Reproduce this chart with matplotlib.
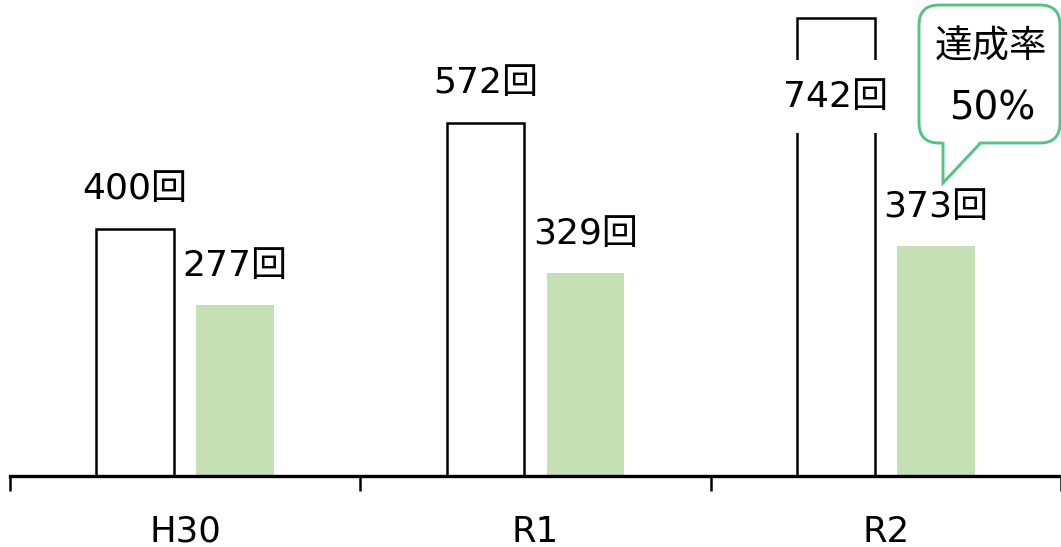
import matplotlib
matplotlib.use("Agg")
import matplotlib.pyplot as plt
from matplotlib.patches import FancyBboxPatch, Polygon
from matplotlib.lines import Line2D
import numpy as np

plt.rcParams['font.family'] = ['DejaVu Sans', 'Noto Sans CJK JP']

# data
categories = ['H30', 'R1', 'R2']
targets = [400, 572, 742]      # white bars
results = [277, 329, 373]      # green bars
target_labels = ['400回', '572回', '742回']
result_labels = ['277回', '329回', '373回']
callout_lines = ['達成率', '50%']

green = '#C5E0B4'
bubble_green = '#55C286'

fig = plt.figure(figsize=(10.61, 5.47), dpi=100)
ax = fig.add_axes([10 / 1061, 71 / 547, 1051 / 1061, 476 / 547])

x = np.arange(len(categories))
w = 0.222
off = 0.1425

ax.bar(x - off, targets, w, facecolor='white', edgecolor='black', linewidth=1.8, zorder=2)
ax.bar(x + off, results, w, facecolor=green, edgecolor='none', zorder=2)

ax.set_xlim(-0.5, 2.5)
ax.set_ylim(0, 771)

box = dict(facecolor='white', edgecolor='none', pad=14)
for i in range(len(categories)):
    ty = targets[i] + 65
    bb = None
    if ty > 700:
        ty = 614   # label sits inside the bar when it would run off the top
        bb = box
    ax.text(x[i] - off, ty, target_labels[i], ha='center', va='center',
            fontsize=26, bbox=bb, zorder=3)
    ax.text(x[i] + off, results[i] + 63, result_labels[i], ha='center', va='center',
            fontsize=26, zorder=3)

# axis styling
for s in ['top', 'left', 'right']:
    ax.spines[s].set_visible(False)
ax.spines['bottom'].set_linewidth(2.4)
ax.set_yticks([])
ax.set_xticks([-0.5, 0.5, 1.5, 2.5])
ax.set_xticklabels([])
ax.tick_params(axis='x', which='major', length=11, width=1.8, direction='out')
ax.set_xticks(x, minor=True)
ax.set_xticklabels(categories, minor=True, fontsize=25.5)
ax.tick_params(axis='x', which='minor', length=0, pad=28)

# callout bubble (pixel positions converted to inches)
def px(xp, yp):
    return xp / 100, (547 - yp) / 100

tr = fig.dpi_scale_trans
bx0, by0 = px(919, 143)
bx1, by1 = px(1060, 5)
bubble = FancyBboxPatch((bx0, by0), bx1 - bx0, by1 - by0,
                        boxstyle='round,pad=0,rounding_size=0.2',
                        transform=tr, facecolor='white', edgecolor=bubble_green,
                        linewidth=2.1, zorder=5)
fig.patches.append(bubble)
tail = [px(943, 141), px(943, 183), px(980, 141)]
fig.patches.append(Polygon(tail, closed=True, transform=tr, facecolor='white',
                           edgecolor='none', zorder=6))
tx = [px(943, 143.5)[0], px(943, 183)[0], px(980, 143.5)[0]]
ty = [px(943, 143.5)[1], px(943, 183)[1], px(980, 143.5)[1]]
fig.lines.append(Line2D(tx, ty, transform=tr, color=bubble_green, linewidth=2.1,
                        zorder=7, solid_joinstyle='miter'))
fig.text(991 / 1061, 1 - 47 / 547, callout_lines[0], ha='center', va='center',
         fontsize=27, family=['Noto Sans CJK JP'], zorder=8)
fig.text(992 / 1061, 1 - 108 / 547, callout_lines[1], ha='center', va='center',
         fontsize=28, zorder=8)

fig.savefig('out.png', dpi=100)
